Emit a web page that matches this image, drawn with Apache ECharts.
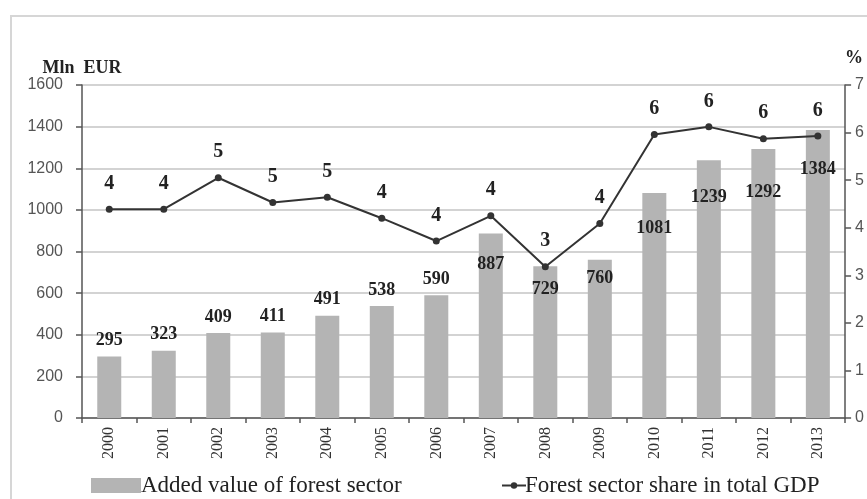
<!DOCTYPE html>
<html>
<head>
<meta charset="utf-8">
<script src="https://cdn.jsdelivr.net/npm/echarts@6/dist/echarts.min.js"></script>
<style>
  html, body { margin: 0; padding: 0; background: #fff; overflow: hidden; }
  #frame { position: absolute; left: 10px; top: 15px; width: 900px; height: 520px;
           border-left: 2px solid #d6d6d6; border-top: 2px solid #d6d6d6; }
  #chart { position: absolute; left: 0; top: 0; width: 867px; height: 499px; }
</style>
</head>
<body>
<div id="frame"></div>
<div id="chart"></div>
<script>
const years = ['2000','2001','2002','2003','2004','2005','2006','2007','2008','2009','2010','2011','2012','2013'];
const addedValue = [295, 323, 409, 411, 491, 538, 590, 887, 729, 760, 1081, 1239, 1292, 1384];
const gdpShare = [4.39, 4.39, 5.05, 4.53, 4.64, 4.20, 3.72, 4.25, 3.18, 4.09, 5.96, 6.12, 5.87, 5.93];
const leftTicks = { min: 0, max: 1600, interval: 200 };
const rightTicks = { min: 0, max: 7, interval: 1 };

const serif = '"Liberation Serif", "DejaVu Serif", serif';
const sans = '"Liberation Sans", Arial, sans-serif';

// label placement style: inside the bar for the taller later bars
const insideDist = { 7: 22, 8: 14, 9: 10, 10: 26, 11: 28, 12: 34, 13: 30 };

const barData = addedValue.map((v, i) => {
  const item = { value: v };
  if (insideDist[i] !== undefined) {
    item.label = { position: 'insideTop', distance: insideDist[i] };
  }
  return item;
});

const chart = echarts.init(document.getElementById('chart'), null, { renderer: 'canvas' });
chart.setOption({
  animation: false,
  backgroundColor: 'transparent',
  grid: { left: 82, right: 20, top: 85, bottom: 81, containLabel: false },
  legend: [
    {
      data: [{ name: 'Added value of forest sector', icon: 'rect' }],
      left: 86, top: 469,
      itemWidth: 50, itemHeight: 15, itemGap: 2,
      textStyle: { fontFamily: serif, fontSize: 23, color: '#222', padding: [0, 0, 0, -5] }
    },
    {
      data: ['Forest sector share in total GDP'],
      left: 496, top: 469,
      itemWidth: 24, itemHeight: 8,
      textStyle: { fontFamily: serif, fontSize: 23, color: '#222', padding: [0, 0, 0, -6] }
    }
  ],
  xAxis: {
    type: 'category',
    data: years,
    axisLine: { lineStyle: { color: '#555', width: 1.5 } },
    axisTick: { show: true, length: 5, alignWithLabel: false, lineStyle: { color: '#555', width: 1.5 } },
    axisLabel: { rotate: 90, fontFamily: serif, fontSize: 16, color: '#333', margin: 9 },
    splitLine: { show: false }
  },
  yAxis: [
    {
      type: 'value',
      min: leftTicks.min, max: leftTicks.max, interval: leftTicks.interval,
      name: 'Mln  EUR',
      nameLocation: 'end',
      nameGap: 7,
      nameTextStyle: { fontFamily: serif, fontSize: 18, fontWeight: 'bold', color: '#222', align: 'center' },
      axisLine: { show: true, lineStyle: { color: '#555', width: 1.5 } },
      axisTick: { show: true, length: 6, lineStyle: { color: '#555', width: 1.5 } },
      axisLabel: { fontFamily: sans, fontSize: 16, color: '#555', margin: 19, formatter: v => String(v) },
      splitLine: { show: true, lineStyle: { color: '#c4c4c4', width: 1.5 } }
    },
    {
      type: 'value',
      min: rightTicks.min, max: rightTicks.max, interval: rightTicks.interval,
      name: '%',
      nameLocation: 'end',
      nameGap: 18,
      nameTextStyle: { fontFamily: serif, fontSize: 18, fontWeight: 'bold', color: '#222', align: 'left', padding: [0, 0, 0, 0] },
      axisLine: { show: true, lineStyle: { color: '#555', width: 1.5 } },
      axisTick: { show: true, length: 6, lineStyle: { color: '#555', width: 1.5 } },
      axisLabel: { fontFamily: sans, fontSize: 16, color: '#555', margin: 10 },
      splitLine: { show: false }
    }
  ],
  series: [
    {
      name: 'Added value of forest sector',
      type: 'bar',
      yAxisIndex: 0,
      data: barData,
      barWidth: 24,
      itemStyle: { color: '#b4b4b4' },
      label: {
        show: true, position: 'top', distance: 7,
        fontFamily: serif, fontSize: 18, fontWeight: 'bold', color: '#222'
      },
      z: 2
    },
    {
      name: 'Forest sector share in total GDP',
      type: 'line',
      yAxisIndex: 1,
      data: gdpShare,
      symbol: 'circle',
      symbolSize: 7,
      lineStyle: { color: '#333', width: 2 },
      itemStyle: { color: '#333' },
      label: {
        show: true, position: 'top', distance: 12,
        fontFamily: serif, fontSize: 20, fontWeight: 'bold', color: '#222',
        formatter: p => Math.round(p.value)
      },
      z: 3
    }
  ]
});
</script>
</body>
</html>
